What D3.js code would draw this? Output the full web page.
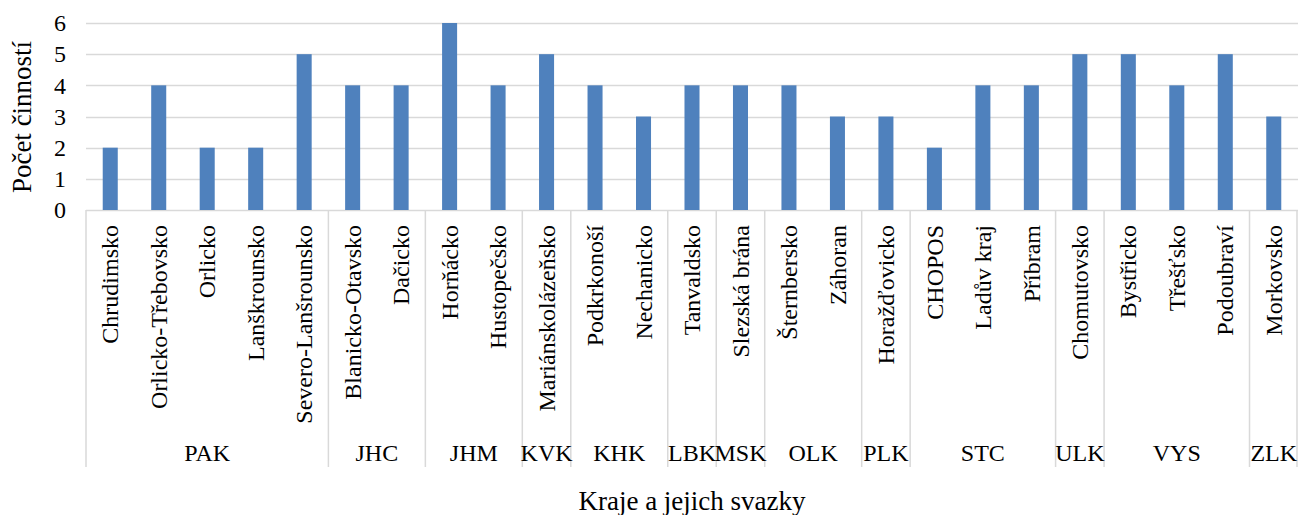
<!DOCTYPE html>
<html>
<head>
<meta charset="utf-8">
<script src="https://cdn.jsdelivr.net/npm/d3@7"></script>
<style>
  html, body { margin: 0; padding: 0; background: #fff; }
  svg { display: block; }
</style>
</head>
<body>
<svg id="chart" width="1298" height="515" font-family="Liberation Serif"></svg>
<script>
const categories = ["Chrudimsko","Orlicko-Třebovsko","Orlicko","Lanškrounsko","Severo-Lanšrounsko",
  "Blanicko-Otavsko","Dačicko","Horňácko","Hustopečsko","Mariánskolázeňsko","Podkrkonoší","Nechanicko",
  "Tanvaldsko","Slezská brána","Šternbersko","Záhoran","Horažďovicko","CHOPOS","Ladův kraj","Příbram",
  "Chomutovsko","Bystřicko","Třešťsko","Podoubraví","Morkovsko"];
const values = [2,4,2,2,5, 4,4, 6,4, 5, 4,3, 4, 4, 4,3, 3, 2,4,4, 5, 5,4,5, 3];
const groups = ["PAK","JHC","JHM","KVK","KHK","LBK","MSK","OLK","PLK","STC","ULK","VYS","ZLK"];
const groupSizes = [5,2,2,1,2,1,1,2,1,3,1,3,1];
const yTicks = [0,1,2,3,4,5,6];
const yTitle = "Počet činností";
const xTitle = "Kraje a jejich svazky";

const svg = d3.select("#chart");
const pLeft = 86, pRight = 1298, pTop = 23, pBottom = 210, sepBottom = 467;
const gridColor = "#d9d9d9";
const FONT = "Liberation Serif";

const x = d3.scaleBand().domain(d3.range(categories.length)).range([pLeft, pRight]).paddingInner(0.69).paddingOuter(0.345);
const step = x.step();
const y = d3.scaleLinear().domain([0, 6]).range([pBottom, pTop]);

// gridlines
svg.append("g").selectAll("line").data(yTicks).join("line")
  .attr("x1", pLeft).attr("x2", pRight)
  .attr("y1", d => Math.round(y(d)) + 0.5).attr("y2", d => Math.round(y(d)) + 0.5)
  .attr("stroke", gridColor).attr("stroke-width", 1.5);

// y axis labels
const yAxis = svg.append("g").attr("transform", `translate(${pLeft - 20},0)`)
  .call(d3.axisLeft(y).tickValues(yTicks).tickSize(0).tickPadding(0).tickFormat(d3.format("d")));
yAxis.select(".domain").remove();
yAxis.attr("font-family", FONT).attr("font-size", 24);
yAxis.selectAll("text").attr("font-family", FONT).attr("font-size", 24).attr("fill", "#000");

// bars
svg.append("g").selectAll("rect").data(values).join("rect")
  .attr("x", (d, i) => x(i)).attr("width", x.bandwidth())
  .attr("y", d => y(d)).attr("height", d => y(0) - y(d))
  .attr("fill", "#4f81bd");

// group separators
let acc = 0;
const bounds = [0];
groupSizes.forEach(s => { acc += s; bounds.push(acc); });
svg.append("g").selectAll("line").data(bounds).join("line")
  .attr("x1", d => Math.min(pLeft + d * step, pRight - 1)).attr("x2", d => Math.min(pLeft + d * step, pRight - 1))
  .attr("y1", pBottom).attr("y2", sepBottom)
  .attr("stroke", gridColor).attr("stroke-width", 1.5);

// category labels
svg.append("g").selectAll("text").data(categories).join("text")
  .attr("transform", (d, i) => `translate(${x(i) + x.bandwidth() / 2},225) rotate(-90)`)
  .attr("text-anchor", "end").attr("dy", "0.34em")
  .attr("font-family", FONT).attr("font-size", 24).attr("fill", "#000")
  .text(d => d);

// group labels
svg.append("g").selectAll("text").data(groups).join("text")
  .attr("x", (d, i) => pLeft + (bounds[i] + bounds[i + 1]) / 2 * step)
  .attr("y", 461).attr("text-anchor", "middle")
  .attr("font-family", FONT).attr("font-size", 24).attr("fill", "#000")
  .text(d => d);

// axis titles
svg.append("text").attr("transform", "translate(31,117) rotate(-90)")
  .attr("text-anchor", "middle").attr("font-family", FONT).attr("font-size", 27).attr("fill", "#000").text(yTitle);
svg.append("text").attr("x", 692).attr("y", 510)
  .attr("text-anchor", "middle").attr("font-family", FONT).attr("font-size", 27).attr("fill", "#000").text(xTitle);
</script>
</body>
</html>
